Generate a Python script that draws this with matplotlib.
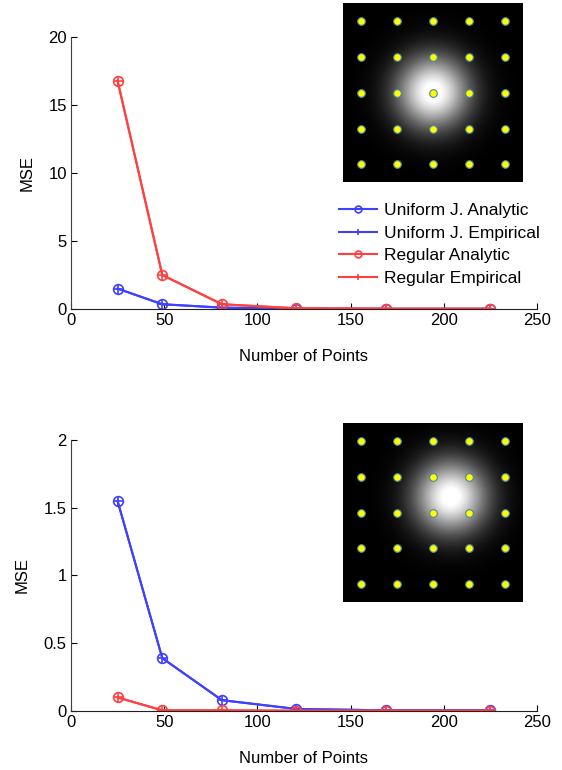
import numpy as np
import matplotlib
matplotlib.use('Agg')
import matplotlib.pyplot as plt

plt.rcParams['font.family'] = ['Liberation Sans', 'DejaVu Sans']
plt.rcParams['font.size'] = 12

# number of sample points (5x5 .. 15x15 grids)
n_points = [25, 49, 81, 121, 169, 225]

# top panel: blob centred on a sample point
top_uni_analytic = [1.5, 0.35, 0.1, 0.02, 0.01, 0.01]
top_uni_empirical = [1.5, 0.35, 0.1, 0.02, 0.01, 0.01]
top_reg_analytic = [16.8, 2.5, 0.35, 0.05, 0.02, 0.02]
top_reg_empirical = [16.8, 2.5, 0.35, 0.05, 0.02, 0.02]

# bottom panel: blob between sample points
bot_uni_analytic = [1.55, 0.39, 0.08, 0.015, 0.005, 0.005]
bot_uni_empirical = [1.55, 0.39, 0.08, 0.015, 0.005, 0.005]
bot_reg_analytic = [0.1, 0.005, 0.005, 0.002, 0.002, 0.002]
bot_reg_empirical = [0.1, 0.005, 0.005, 0.002, 0.002, 0.002]

legend_labels = ['Uniform J. Analytic', 'Uniform J. Empirical',
                 'Regular Analytic', 'Regular Empirical']

# inset: sample grid and blob centres (image coords, 0..1, y from top)
grid_pos = [0.1, 0.3, 0.5, 0.7, 0.9]
blob_top = (0.5, 0.5)
blob_bot = (0.6, 0.415)
blob_sigma = 0.14

BLUE = '#4040ff'
RED = '#ff4040'


def draw_panel(fig, rect, ua, ue, ra, re, ymax, yticks, legend=False):
    ax = fig.add_axes(rect)
    ax.plot(n_points, ua, color=BLUE, marker='o', mfc='none', ms=7, mew=1.2,
            lw=1.5, label=legend_labels[0])
    ax.plot(n_points, ue, color=BLUE, marker='+', ms=7, mew=1.2, lw=1.5,
            label=legend_labels[1])
    ax.plot(n_points, ra, color=RED, marker='o', mfc='none', ms=7, mew=1.2,
            lw=1.5, label=legend_labels[2])
    ax.plot(n_points, re, color=RED, marker='+', ms=7, mew=1.2, lw=1.5,
            label=legend_labels[3])
    ax.set_xlim(0, 250)
    ax.set_ylim(0, ymax)
    ax.set_xticks([0, 50, 100, 150, 200, 250])
    ax.set_yticks(yticks)
    ax.set_yticklabels([('%g' % t) for t in yticks])
    ax.spines['top'].set_visible(False)
    ax.spines['right'].set_visible(False)
    ax.spines['left'].set_color('#404040')
    ax.spines['bottom'].set_color('#202020')
    ax.tick_params(direction='in', length=4, width=0.8, pad=3)
    ax.set_xlabel('Number of Points', labelpad=15)
    ax.set_ylabel('MSE', labelpad=10)
    if legend:
        leg = ax.legend(loc='upper left', bbox_to_anchor=(0.561, 0.415),
                        frameon=False, handlelength=2.2, handletextpad=0.4,
                        labelspacing=0.42, borderaxespad=0, markerscale=0.7,
                        fontsize=12.5)
        leg.set_zorder(10)
    return ax


def draw_inset(fig, rect, centre):
    ax = fig.add_axes(rect)
    xs = np.linspace(0, 1, 181)
    X, Y = np.meshgrid(xs, xs)
    img = np.exp(-((X - centre[0]) ** 2 + (Y - centre[1]) ** 2) / (2 * blob_sigma ** 2))
    ax.imshow(img, cmap='gray', extent=[0, 1, 1, 0], vmin=0, vmax=0.95,
              interpolation='bilinear')
    gx, gy = np.meshgrid(grid_pos, grid_pos)
    ax.plot(gx.ravel(), gy.ravel(), 'o', color='#ffff00', mec='#4a8aa0',
            ms=5.5, mew=0.8, ls='none')
    ax.set_xlim(0, 1)
    ax.set_ylim(1, 0)
    ax.axis('off')


fig = plt.figure(figsize=(5.62, 7.70), dpi=100)

draw_panel(fig, [0.1263, 0.5987, 0.829, 0.353],
           top_uni_analytic, top_uni_empirical, top_reg_analytic, top_reg_empirical,
           20, [0, 5, 10, 15, 20], legend=True)
draw_panel(fig, [0.1263, 0.0766, 0.829, 0.352],
           bot_uni_analytic, bot_uni_empirical, bot_reg_analytic, bot_reg_empirical,
           2, [0, 0.5, 1, 1.5, 2])

draw_inset(fig, [0.610, 0.7623, 0.320, 0.235], blob_top)
draw_inset(fig, [0.610, 0.2169, 0.320, 0.235], blob_bot)

fig.savefig('out.png', dpi=100)
